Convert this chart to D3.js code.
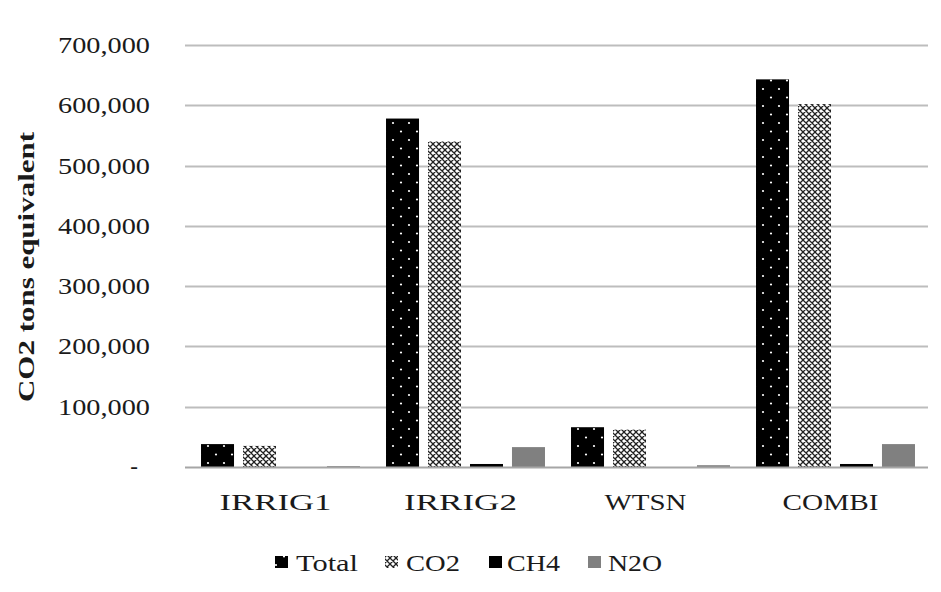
<!DOCTYPE html>
<html>
<head>
<meta charset="utf-8">
<script src="https://cdn.jsdelivr.net/npm/d3@7"></script>
<style>
  html, body { margin: 0; padding: 0; background: #fff; }
  svg { display: block; }
  svg text { font-family: "Liberation Serif", "Times New Roman", Times, "DejaVu Serif", serif; fill: #1a1a1a; }
</style>
</head>
<body>
<svg id="chart" width="941" height="592" font-family="Liberation Serif, Times New Roman, DejaVu Serif, serif"></svg>
<script>
const categories = ["IRRIG1", "IRRIG2", "WTSN", "COMBI"];
const seriesNames = ["Total", "CO2", "CH4", "N2O"];
const totalValues = [38000, 578000, 66000, 643000];
const co2Values = [35000, 540000, 62000, 602000];
const ch4Values = [0, 5000, 0, 5000];
const n2oValues = [1500, 33000, 3000, 38000];
const yTicks = [0, 100000, 200000, 300000, 400000, 500000, 600000, 700000];
const yTitle = "CO2 tons equivalent";

const seriesValues = { Total: totalValues, CO2: co2Values, CH4: ch4Values, N2O: n2oValues };
const fills = { Total: "url(#patTotal)", CO2: "url(#patCO2)", CH4: "#000000", N2O: "#808080" };

const svg = d3.select("#chart");
const defs = svg.append("defs");

// Total: black with white dots
const pT = defs.append("pattern").attr("id", "patTotal").attr("patternUnits", "userSpaceOnUse")
  .attr("width", 16).attr("height", 17);
pT.append("rect").attr("width", 16).attr("height", 17).attr("fill", "#000");
pT.append("circle").attr("cx", 4).attr("cy", 4).attr("r", 1.1).attr("fill", "#fff");
pT.append("circle").attr("cx", 12).attr("cy", 12.5).attr("r", 1.1).attr("fill", "#fff");

// CO2: diamond lattice
const pC = defs.append("pattern").attr("id", "patCO2").attr("patternUnits", "userSpaceOnUse")
  .attr("width", 6).attr("height", 6);
pC.append("rect").attr("width", 6).attr("height", 6).attr("fill", "#fff");
pC.append("path").attr("d", "M0,0 L6,6 M6,0 L0,6 M-1,5 L1,7 M5,-1 L7,1 M-1,1 L1,-1 M5,7 L7,5")
  .attr("stroke", "#222").attr("stroke-width", 1.3);
pC.append("circle").attr("cx", 3).attr("cy", 0).attr("r", 0.9).attr("fill", "#fff");
pC.append("circle").attr("cx", 3).attr("cy", 6).attr("r", 0.9).attr("fill", "#fff");
pC.append("circle").attr("cx", 0).attr("cy", 3).attr("r", 0.9).attr("fill", "#fff");
pC.append("circle").attr("cx", 6).attr("cy", 3).attr("r", 0.9).attr("fill", "#fff");

const plotLeft = 185, plotRight = 928, plotTop = 45, plotBottom = 467;

const y = d3.scaleLinear().domain([0, 700000]).range([plotBottom, plotTop]);
const x0 = d3.scaleBand().domain(categories).range([188, 928]).padding(0);
const x1 = d3.scaleBand().domain(seriesNames).range([0, x0.bandwidth()])
  .paddingInner(0.214).paddingOuter(0.31);

// gridlines
svg.append("g").selectAll("line").data(yTicks.filter(d => d > 0)).join("line")
  .attr("x1", plotLeft).attr("x2", plotRight)
  .attr("y1", d => Math.round(y(d)) + 0.5).attr("y2", d => Math.round(y(d)) + 0.5)
  .attr("stroke", "#bdbdbd").attr("stroke-width", 2);

// y labels
const fmt = d3.format(",");
const yl = svg.append("g");
yTicks.forEach(d => {
  if (d === 0) {
    yl.append("text").attr("x", 138).attr("y", y(d) + 7).attr("text-anchor", "end")
      .attr("font-size", 23).text("-");
  } else {
    yl.append("text").attr("x", 150).attr("y", y(d) + 8).attr("text-anchor", "end")
      .attr("font-size", 23).attr("textLength", 92).attr("lengthAdjust", "spacingAndGlyphs").text(fmt(d));
  }
});

// bars
const groups = svg.append("g").selectAll("g").data(categories).join("g")
  .attr("transform", d => `translate(${x0(d)},0)`);
groups.selectAll("rect").data((c, i) => seriesNames.map(s => ({ s, v: seriesValues[s][i] }))).join("rect")
  .attr("x", d => x1(d.s)).attr("width", x1.bandwidth())
  .attr("y", d => y(d.v)).attr("height", d => plotBottom - y(d.v))
  .attr("fill", d => fills[d.s]);

// axis line
svg.append("line").attr("x1", plotLeft).attr("x2", plotRight)
  .attr("y1", plotBottom + 0.5).attr("y2", plotBottom + 0.5)
  .attr("stroke", "#a6a6a6").attr("stroke-width", 2);

// x labels
const xLabelWidths = { IRRIG1: 112, IRRIG2: 113, WTSN: 82, COMBI: 96 };
svg.append("g").selectAll("text").data(categories).join("text")
  .attr("x", d => x0(d) + x0.bandwidth() / 2 - 5).attr("y", 510)
  .attr("text-anchor", "middle").attr("font-size", 23)
  .attr("textLength", d => xLabelWidths[d]).attr("lengthAdjust", "spacingAndGlyphs")
  .text(d => d);

// y title
svg.append("text").attr("transform", "translate(34,267) rotate(-90)")
  .attr("text-anchor", "middle").attr("font-size", 24).attr("font-weight", "bold")
  .attr("textLength", 270).attr("lengthAdjust", "spacingAndGlyphs").text(yTitle);

// legend
const legendItems = [
  { s: "Total", mx: 275, tx: 296, tw: 62 },
  { s: "CO2", mx: 385, tx: 406, tw: 54 },
  { s: "CH4", mx: 489, tx: 507, tw: 53 },
  { s: "N2O", mx: 588, tx: 608, tw: 54 }
];
const lg = svg.append("g");
legendItems.forEach(it => {
  lg.append("rect").attr("x", it.mx).attr("y", 556).attr("width", 13).attr("height", 12)
    .attr("fill", fills[it.s]);
  lg.append("text").attr("x", it.tx).attr("y", 571).attr("font-size", 23)
    .attr("textLength", it.tw).attr("lengthAdjust", "spacingAndGlyphs").text(it.s);
});
</script>
</body>
</html>
